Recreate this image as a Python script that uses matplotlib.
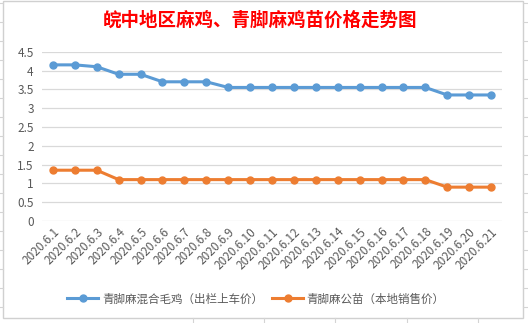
import matplotlib
matplotlib.use('Agg')
import matplotlib.pyplot as plt
from matplotlib.lines import Line2D
from matplotlib.patches import Rectangle

plt.rcParams['font.family'] = ['Noto Sans CJK SC', 'DejaVu Sans']

# data
dates = ['2020.6.1', '2020.6.2', '2020.6.3', '2020.6.4', '2020.6.5', '2020.6.6', '2020.6.7',
         '2020.6.8', '2020.6.9', '2020.6.10', '2020.6.11', '2020.6.12', '2020.6.13', '2020.6.14',
         '2020.6.15', '2020.6.16', '2020.6.17', '2020.6.18', '2020.6.19', '2020.6.20', '2020.6.21']
mixed_price = [4.15, 4.15, 4.1, 3.9, 3.9, 3.7, 3.7, 3.7, 3.55, 3.55, 3.55, 3.55, 3.55, 3.55,
               3.55, 3.55, 3.55, 3.55, 3.35, 3.35, 3.35]
chick_price = [1.35, 1.35, 1.35, 1.1, 1.1, 1.1, 1.1, 1.1, 1.1, 1.1, 1.1, 1.1, 1.1, 1.1,
               1.1, 1.1, 1.1, 1.1, 0.9, 0.9, 0.9]
series_names = ['青脚麻混合毛鸡（出栏上车价）', '青脚麻公苗（本地销售价）']
yticks = [0, 0.5, 1, 1.5, 2, 2.5, 3, 3.5, 4, 4.5]

W, H = 528, 323
fig = plt.figure(figsize=(W / 100, H / 100), dpi=100)

# spreadsheet cell lines peeking out around the chart
for k in range(17):
    y = 1 - (2.7 + 19 * k) / H
    fig.add_artist(Line2D([0, 3 / W], [y, y], color='#d4d4d4', lw=0.8))
    fig.add_artist(Line2D([523 / W, 1], [y, y], color='#d4d4d4', lw=0.8))
for x in [193, 264, 335, 407, 478]:
    fig.add_artist(Line2D([x / W, x / W], [0, 5 / H], color='#d4d4d4', lw=0.8))
fig.add_artist(Rectangle((3 / W, 5 / H), 520 / W, 317 / H, fill=False,
                         edgecolor='#d0d0d0', lw=1.0))

ax = fig.add_axes([42 / W, 102 / H, 460 / W, 169.3 / H])
x = list(range(len(dates)))
ax.plot(x, mixed_price, color='#5B9BD5', lw=2.2, marker='o', ms=5, label=series_names[0])
ax.plot(x, chick_price, color='#ED7D31', lw=2.2, marker='o', ms=5, label=series_names[1])

ax.set_xlim(-0.5, len(dates) - 0.5)
ax.set_ylim(0, 4.5)
ax.set_yticks(yticks)
ax.set_yticklabels([f'{v:g}' for v in yticks])
ax.yaxis.grid(True, color='#d9d9d9', lw=0.9)
ax.set_axisbelow(True)
for s in ax.spines.values():
    s.set_visible(False)
ax.tick_params(axis='both', length=0, colors='#595959', labelsize=8.5)
ax.tick_params(axis='y', pad=6)
ax.set_xticks(x)
ax.set_xticklabels(dates, rotation=45, ha='right', rotation_mode='anchor')
ax.tick_params(axis='x', pad=3)

fig.text(259.5 / W, 1 - 20 / H, '皖中地区麻鸡、青脚麻鸡苗价格走势图', color='red',
         fontsize=13.3, fontweight='bold', ha='center', va='center')

fig.legend(loc='center', bbox_to_anchor=(256 / W, 1 - 299 / H), ncol=2, frameon=False,
           fontsize=8.3, handlelength=2.7, handletextpad=0.3, columnspacing=0.8,
           labelcolor='#595959')

fig.savefig('out.png', dpi=100, facecolor='white')
